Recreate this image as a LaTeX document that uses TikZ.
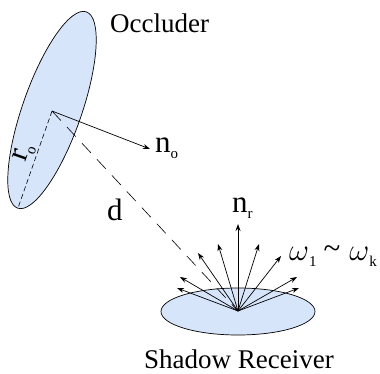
\documentclass[tikz,border=0pt]{standalone}
\usepackage{fontspec}
\setmainfont{Liberation Serif}
\usetikzlibrary{arrows.meta}
\definecolor{disc}{RGB}{214,229,250}
\newcommand{\sbs}[1]{\raisebox{-6pt}{\fontsize{15}{15}\selectfont #1}}
\newcommand{\bigw}{\scalebox{1.24}{$\omega$}}
\tikzset{
  discshape/.style={draw=black,fill=disc,line width=0.7pt},
  ray/.style={draw=black,line width=0.7pt,-{Stealth[length=7pt,width=5pt]}},
  dashline/.style={draw=black,line width=0.6pt,dash pattern=on 13pt off 9pt},
  shortdash/.style={draw=black,line width=0.6pt,dash pattern=on 5pt off 3pt},
  lab/.style={inner sep=0pt,font=\fontsize{27}{27}\selectfont},
  biglab/.style={inner sep=0pt,font=\fontsize{31}{32}\selectfont}
}
\begin{document}
\begin{tikzpicture}[x=1pt,y=-1pt]
\useasboundingbox (0,0) rectangle (380,373);
\fill[white] (0,0) rectangle (380,373);
\path[discshape] (52,110) circle[x radius=104,y radius=29.5,rotate=70.7];
\path[discshape] (238,311.5) circle[x radius=77,y radius=23.5];
\coordinate (oc) at (52,111);
\coordinate (oe) at (18,208);
\coordinate (rc) at (238,311);
\coordinate (no) at (150,149);
\coordinate (r1) at (238,224);
\coordinate (r2) at (218,244);
\coordinate (r3) at (259,244);
\coordinate (r4) at (198,253);
\coordinate (r5) at (281,256);
\coordinate (r6) at (180,277);
\coordinate (r7) at (297,277);
\coordinate (r8) at (177,288);
\coordinate (r9) at (299,288);
\draw[shortdash] (oc) -- (oe);
\draw[dashline] (oc) -- (rc);
\draw[ray] (oc) -- (no);
\draw[ray,line width=1pt] (rc) -- (r1);
\foreach \t in {r2,r3,r4,r5,r6,r7,r8,r9} \draw[ray] (rc) -- (\t);
\node[lab,anchor=base west] (occ) at (110,32) {Occluder};
\node[lab,anchor=base] (rec) at (239,368) {Shadow Receiver};
\node[biglab,anchor=base west] (nolab) at (155,152) {n\sbs{o}};
\node[biglab,anchor=base west] (nrlab) at (232,212) {n\sbs{r}};
\node[biglab,anchor=base west] (dlab) at (107,220) {d};
\node[biglab,anchor=base west,rotate=70.7] (rlab) at (25,163) {r\sbs{o}};
\node[biglab,anchor=base west] (wlab) at (289,260) {\bigw\sbs{1}\hspace{7pt}\raisebox{2pt}{\textasciitilde}\hspace{9pt}\bigw\sbs{k}};
\end{tikzpicture}
\end{document}
